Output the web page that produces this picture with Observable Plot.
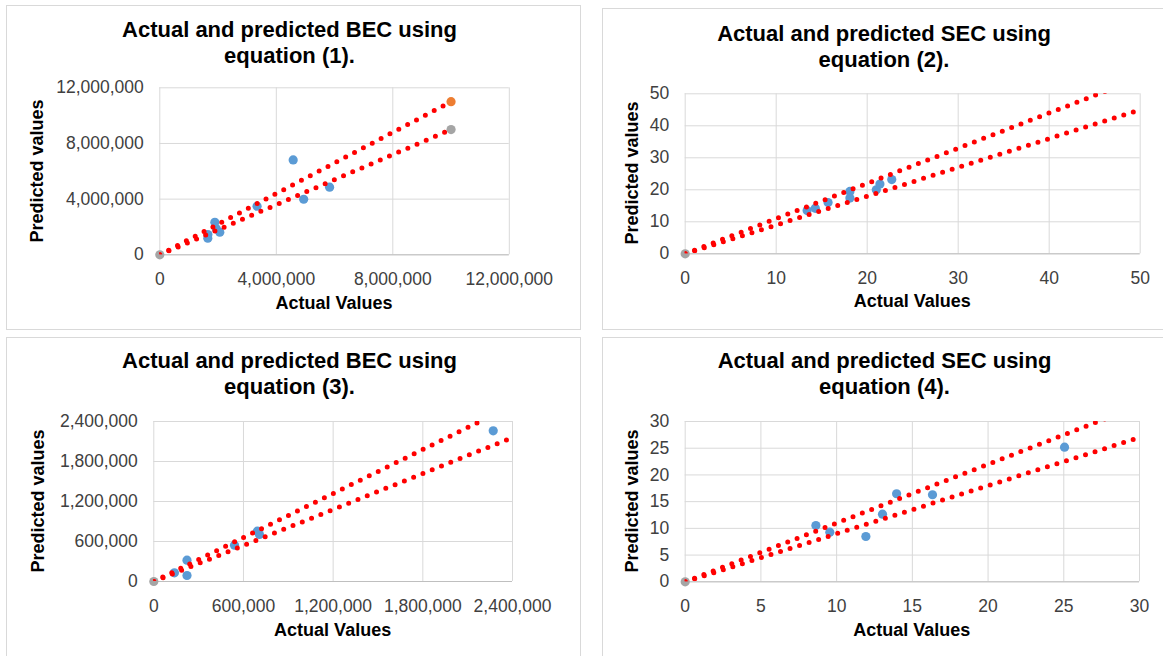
<!DOCTYPE html>
<html><head><meta charset="utf-8">
<script src="https://cdn.jsdelivr.net/npm/d3@7"></script>
<script src="https://cdn.jsdelivr.net/npm/@observablehq/plot@0.6"></script>
<style>
body{margin:0;background:#fff;font-family:"Liberation Sans",Arial,sans-serif;}
#root{position:relative;width:1163px;height:656px;overflow:hidden;background:#fff;}
.box{position:absolute;border:1px solid #d9d9d9;box-sizing:border-box;}
.title{position:absolute;transform:translate(-50%,-50%);font-weight:bold;font-size:22px;line-height:26px;text-align:center;white-space:nowrap;color:#000;}
.axt{position:absolute;transform:translate(-50%,-50%);font-weight:bold;font-size:18px;white-space:nowrap;color:#000;}
.axt.rot{transform:translate(-50%,-50%) rotate(-90deg);}
#root svg{position:absolute;overflow:visible;}
</style></head><body><div id="root"></div>
<script>
// ---- Data ----
// Equation (1): BEC
const eq1Actual    = [1648000, 1650000, 1890000, 1940000, 2060000, 3340000, 4580000, 4940000, 5830000];
const eq1Predicted = [1190000, 1460000, 2340000, 1870000, 1620000, 3490000, 6820000, 3990000, 4860000];
const eq1Ticks     = [0, 4000000, 8000000, 12000000];
const eq1BoundX    = [0, 10000000];
const eq1Upper     = [0, 11000000];
const eq1Lower     = [0, 9000000];

// Equation (2): SEC
const eq2Actual    = [13.4, 14.3, 15.7, 18.1, 18.1, 21.0, 21.4, 22.7];
const eq2Predicted = [13.5, 14.2, 16.0, 19.5, 17.4, 20.0, 21.8, 23.2];
const eq2Ticks     = [0, 10, 20, 30, 40, 50];
const eq2BoundX    = [0, 50];
const eq2Upper     = [0, 55];
const eq2Lower     = [0, 45];

// Equation (3): BEC
const eq3Actual    = [138000, 222000, 222000, 540000, 693000, 707000, 2271000];
const eq3Predicted = [130000, 320000, 90000, 545000, 755000, 705000, 2260000];
const eq3Ticks     = [0, 600000, 1200000, 1800000, 2400000];
const eq3BoundX    = [0, 2360000];
const eq3Upper     = [0, 2596000];
const eq3Lower     = [0, 2124000];

// Equation (4): SEC
const eq4Actual    = [8.63, 9.55, 11.93, 13.03, 13.96, 16.33, 25.05];
const eq4Predicted = [10.54, 9.29, 8.48, 12.66, 16.48, 16.29, 25.2];
const eq4Ticks     = [0, 5, 10, 15, 20, 25, 30];
const eq4BoundX    = [0, 30];
const eq4Upper     = [0, 33];
const eq4Lower     = [0, 27];

// Reference markers (+10% / -10% endpoints)
const eq1UpperMarkX = [10000000], eq1UpperMarkY = [11000000];
const eq1LowerMarkX = [0, 10000000], eq1LowerMarkY = [0, 9000000];
const originX = [0], originY = [0];

const titles = [
  ["Actual and predicted BEC using", "equation (1)."],
  ["Actual and predicted SEC using", "equation (2)."],
  ["Actual and predicted BEC using", "equation (3)."],
  ["Actual and predicted SEC using", "equation (4)."]
];
const xTitle = "Actual Values";
const yTitle = "Predicted values";

// ---- Layout ----
const panels = [
  {box:{left:6,top:5,w:575,h:325}, plot:{l:159.3,r:508.8,t:87.3,b:254.3}, tx:289.5, ty:43, xty:303, ytx:37,
   actual:eq1Actual, pred:eq1Predicted, ticks:eq1Ticks, bx:eq1BoundX, up:eq1Upper, lo:eq1Lower,
   orange:[eq1UpperMarkX, eq1UpperMarkY], gray:[eq1LowerMarkX, eq1LowerMarkY]},
  {box:{left:602,top:8,w:565,h:322}, plot:{l:684.7,r:1139.7,t:93.3,b:253.3}, tx:884, ty:47, xty:301, ytx:632,
   actual:eq2Actual, pred:eq2Predicted, ticks:eq2Ticks, bx:eq2BoundX, up:eq2Upper, lo:eq2Lower,
   orange:null, gray:[originX, originY]},
  {box:{left:6,top:337,w:575,h:323}, plot:{l:153.3,r:512,t:421,b:581}, tx:289.5, ty:373.5, xty:630, ytx:38,
   actual:eq3Actual, pred:eq3Predicted, ticks:eq3Ticks, bx:eq3BoundX, up:eq3Upper, lo:eq3Lower,
   orange:null, gray:[originX, originY]},
  {box:{left:602,top:337,w:565,h:323}, plot:{l:684.7,r:1139,t:421,b:581.3}, tx:884.5, ty:374, xty:630, ytx:632,
   actual:eq4Actual, pred:eq4Predicted, ticks:eq4Ticks, bx:eq4BoundX, up:eq4Upper, lo:eq4Lower,
   orange:null, gray:[originX, originY]}
];

const root = document.getElementById("root");
const fmt = d3.format(",");

panels.forEach((p, k) => {
  const b = p.box;
  const box = document.createElement("div");
  box.className = "box";
  Object.assign(box.style, {left:b.left+"px", top:b.top+"px", width:b.w+"px", height:b.h+"px"});
  root.appendChild(box);

  const mL = p.plot.l - b.left, mR = b.left + b.w - p.plot.r;
  const mT = p.plot.t - b.top, mB = b.top + b.h - p.plot.b;
  const dom = [p.ticks[0], p.ticks[p.ticks.length - 1]];
  const pts = p.actual.map((a, i) => ({a, v: p.pred[i]}));
  const upLine = p.bx.map((x, i) => ({a: x, v: p.up[i]}));
  const loLine = p.bx.map((x, i) => ({a: x, v: p.lo[i]}));
  const grayPts = p.gray ? p.gray[0].map((x, i) => ({a: x, v: p.gray[1][i]})) : [];
  const orangePts = p.orange ? p.orange[0].map((x, i) => ({a: x, v: p.orange[1][i]})) : [];
  const lineOpts = {x:"a", y:"v", stroke:"#ff0000", strokeWidth:5, strokeDasharray:"0,10", strokeLinecap:"round", clip:true};

  const svg = Plot.plot({
    width: b.w, height: b.h,
    marginLeft: mL, marginRight: mR, marginTop: mT, marginBottom: mB,
    style: {fontSize:"17.5px", fontFamily:"'Liberation Sans', Arial, sans-serif", color:"#404040", background:"transparent", overflow:"visible"},
    x: {domain: dom, ticks: p.ticks, tickFormat: fmt, tickSize: 0, tickPadding: 18, label: null},
    y: {domain: dom, ticks: p.ticks, tickFormat: fmt, tickSize: 0, tickPadding: 16, label: null},
    marks: [
      Plot.ruleX(p.ticks, {stroke:"#d9d9d9", strokeWidth:1}),
      Plot.ruleY(p.ticks, {stroke:"#d9d9d9", strokeWidth:1}),
      Plot.ruleY([dom[0]], {stroke:"#bfbfbf", strokeWidth:1}),
      Plot.dot(pts, {x:"a", y:"v", r:4.6, fill:"#5b9bd5"}),
      Plot.dot(orangePts, {x:"a", y:"v", r:4.6, fill:"#ed7d31"}),
      Plot.dot(grayPts, {x:"a", y:"v", r:4.6, fill:"#a5a5a5"}),
      Plot.line(upLine, lineOpts),
      Plot.line(loLine, lineOpts)
    ]
  });
  svg.style.left = b.left + "px";
  svg.style.top = b.top + "px";
  root.appendChild(svg);

  const t = document.createElement("div");
  t.className = "title";
  t.innerHTML = titles[k][0] + "<br>" + titles[k][1];
  Object.assign(t.style, {left: p.tx + "px", top: p.ty + "px"});
  root.appendChild(t);

  const xt = document.createElement("div");
  xt.className = "axt";
  xt.textContent = xTitle;
  Object.assign(xt.style, {left: ((p.plot.l + p.plot.r) / 2) + "px", top: p.xty + "px"});
  root.appendChild(xt);

  const yt = document.createElement("div");
  yt.className = "axt rot";
  yt.textContent = yTitle;
  Object.assign(yt.style, {left: p.ytx + "px", top: ((p.plot.t + p.plot.b) / 2) + "px"});
  root.appendChild(yt);
});
</script></body></html>
